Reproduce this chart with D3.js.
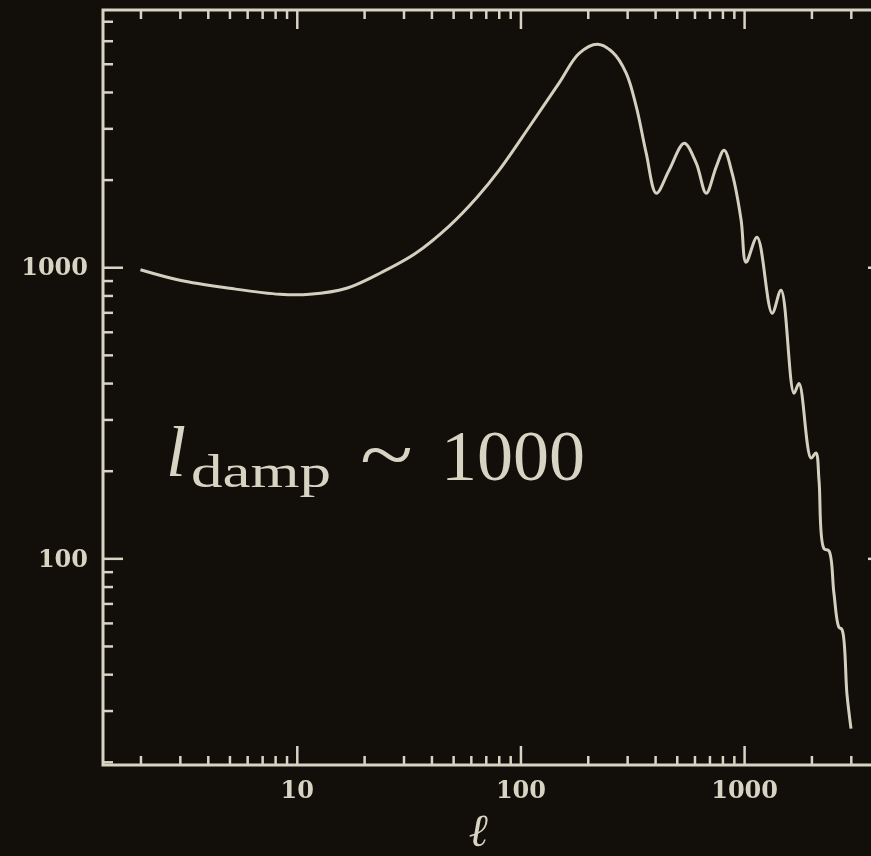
<!DOCTYPE html>
<html>
<head>
<meta charset="utf-8">
<script src="https://cdn.jsdelivr.net/npm/d3@7"></script>
<style>
  html, body { margin: 0; padding: 0; background: #120e0a; }
  svg { display: block; }
</style>
</head>
<body>
<svg class="graph"></svg>
<script>
// multipole l and power D_l
const ell = [2, 3, 5, 8.4, 11.4, 16.7, 24, 34, 48, 64, 80.5, 110, 149, 183, 221, 258, 297, 330, 365, 405,
  462, 540, 611, 677, 750, 814, 884, 970, 1020, 1143, 1334, 1463, 1671, 1761, 1991, 2095, 2163, 2276,
  2395, 2521, 2655, 2739, 2885, 3006];
const power = [980, 902, 847, 807, 807, 847, 961, 1117, 1385, 1740, 2160, 3050, 4300, 5430, 5835, 5480, 4645, 3548, 2466, 1796,
  2154, 2667, 2277, 1796, 2208, 2523, 2104, 1451, 1040, 1268, 695, 834, 369, 399, 221, 230, 185, 108,
  106, 76, 58, 57, 34, 26];

const xMajor = [10, 100, 1000];
const yMajor = [100, 1000];
const xLabels = ["10", "100", "1000"];
const yLabels = ["100", "1000"];

const width = 871;
const height = 856;
const margin = { top: 10, left: 103, right: -17, bottom: 91 };
const fg = "#d8d4c4";

const svg = d3.select(".graph")
    .attr("width", width)
    .attr("height", height);

// soft look of the video frame
svg.append("defs").append("filter")
    .attr("id", "soft")
  .append("feGaussianBlur")
    .attr("stdDeviation", 0.45);

svg.append("rect")
    .attr("width", width)
    .attr("height", height)
    .attr("fill", "#120e0a");

const root = svg.append("g").attr("filter", "url(#soft)");

const x = d3.scaleLog()
    .domain([1.36, 4400])
    .range([margin.left, width - margin.right]);

const y = d3.scaleLog()
    .domain([19.5, 7650])
    .range([height - margin.bottom, margin.top]);

const x0 = x.range()[0], x1 = x.range()[1];
const y0 = y.range()[0], y1 = y.range()[1];

const xMinor = x.ticks().filter(d => !xMajor.includes(d));
const yMinor = y.ticks().filter(d => !yMajor.includes(d));

function styleAxis(g) {
  g.select(".domain").remove();
  g.selectAll(".tick line").attr("stroke", fg).attr("stroke-width", 2.5);
  g.selectAll(".tick text")
      .attr("fill", fg)
      .attr("font-family", "DejaVu Serif")
      .attr("font-weight", "bold")
      .attr("font-size", 24);
}

// bottom
root.append("g").attr("transform", `translate(0,${y0})`)
    .call(d3.axisBottom(x).tickValues(xMinor).tickSize(-9).tickFormat(""))
    .call(styleAxis);
root.append("g").attr("transform", `translate(0,${y0})`)
    .call(d3.axisBottom(x).tickValues(xMajor).tickSize(-19).tickPadding(16)
      .tickFormat((d, i) => xLabels[i]))
    .call(styleAxis);

// top
root.append("g").attr("transform", `translate(0,${y1})`)
    .call(d3.axisTop(x).tickValues(xMinor).tickSize(-9).tickFormat(""))
    .call(styleAxis);
root.append("g").attr("transform", `translate(0,${y1})`)
    .call(d3.axisTop(x).tickValues(xMajor).tickSize(-19).tickFormat(""))
    .call(styleAxis);

// left
root.append("g").attr("transform", `translate(${x0},0)`)
    .call(d3.axisLeft(y).tickValues(yMinor).tickSize(-10).tickFormat(""))
    .call(styleAxis);
root.append("g").attr("transform", `translate(${x0},0)`)
    .call(d3.axisLeft(y).tickValues(yMajor).tickSize(-20).tickPadding(15)
      .tickFormat((d, i) => yLabels[i]))
    .call(styleAxis);

// right
root.append("g").attr("transform", `translate(${x1},0)`)
    .call(d3.axisRight(y).tickValues(yMinor).tickSize(-10).tickFormat(""))
    .call(styleAxis);
root.append("g").attr("transform", `translate(${x1},0)`)
    .call(d3.axisRight(y).tickValues(yMajor).tickSize(-20).tickFormat(""))
    .call(styleAxis);

// frame
root.append("rect")
    .attr("x", x0)
    .attr("y", y1)
    .attr("width", x1 - x0)
    .attr("height", y0 - y1)
    .attr("fill", "none")
    .attr("stroke", fg)
    .attr("stroke-width", 3);

// spectrum
const line = d3.line()
    .x(d => x(d[0]))
    .y(d => y(d[1]))
    .curve(d3.curveCatmullRom.alpha(0.5));

root.append("path")
    .datum(ell.map((l, i) => [l, power[i]]))
    .attr("d", line)
    .attr("fill", "none")
    .attr("stroke", "#d4d0c0")
    .attr("stroke-width", 3)
    .attr("stroke-linejoin", "round");

// axis title
root.append("text")
    .attr("x", 478)
    .attr("y", 846)
    .attr("text-anchor", "middle")
    .attr("font-family", "DejaVu Serif")
    .attr("font-style", "italic")
    .attr("font-size", 46)
    .attr("fill", fg)
    .text("ℓ");

// annotation  l_damp ~ 1000
const ann = root.append("g").attr("fill", fg);
ann.append("text")
    .attr("x", 166)
    .attr("y", 476)
    .attr("font-family", "Liberation Serif")
    .attr("font-style", "italic")
    .attr("font-size", 72)
    .text("l");
ann.append("text")
    .attr("x", 191)
    .attr("y", 487)
    .attr("font-family", "Liberation Serif")
    .attr("font-size", 47)
    .attr("textLength", 140)
    .attr("lengthAdjust", "spacingAndGlyphs")
    .text("damp");
ann.append("text")
    .attr("x", 360)
    .attr("y", 482)
    .attr("font-family", "Liberation Serif")
    .attr("font-size", 80)
    .attr("textLength", 53)
    .attr("lengthAdjust", "spacingAndGlyphs")
    .text("~");
ann.append("text")
    .attr("x", 441)
    .attr("y", 480)
    .attr("font-family", "Liberation Serif")
    .attr("font-size", 72)
    .text("1000");
</script>
</body>
</html>
